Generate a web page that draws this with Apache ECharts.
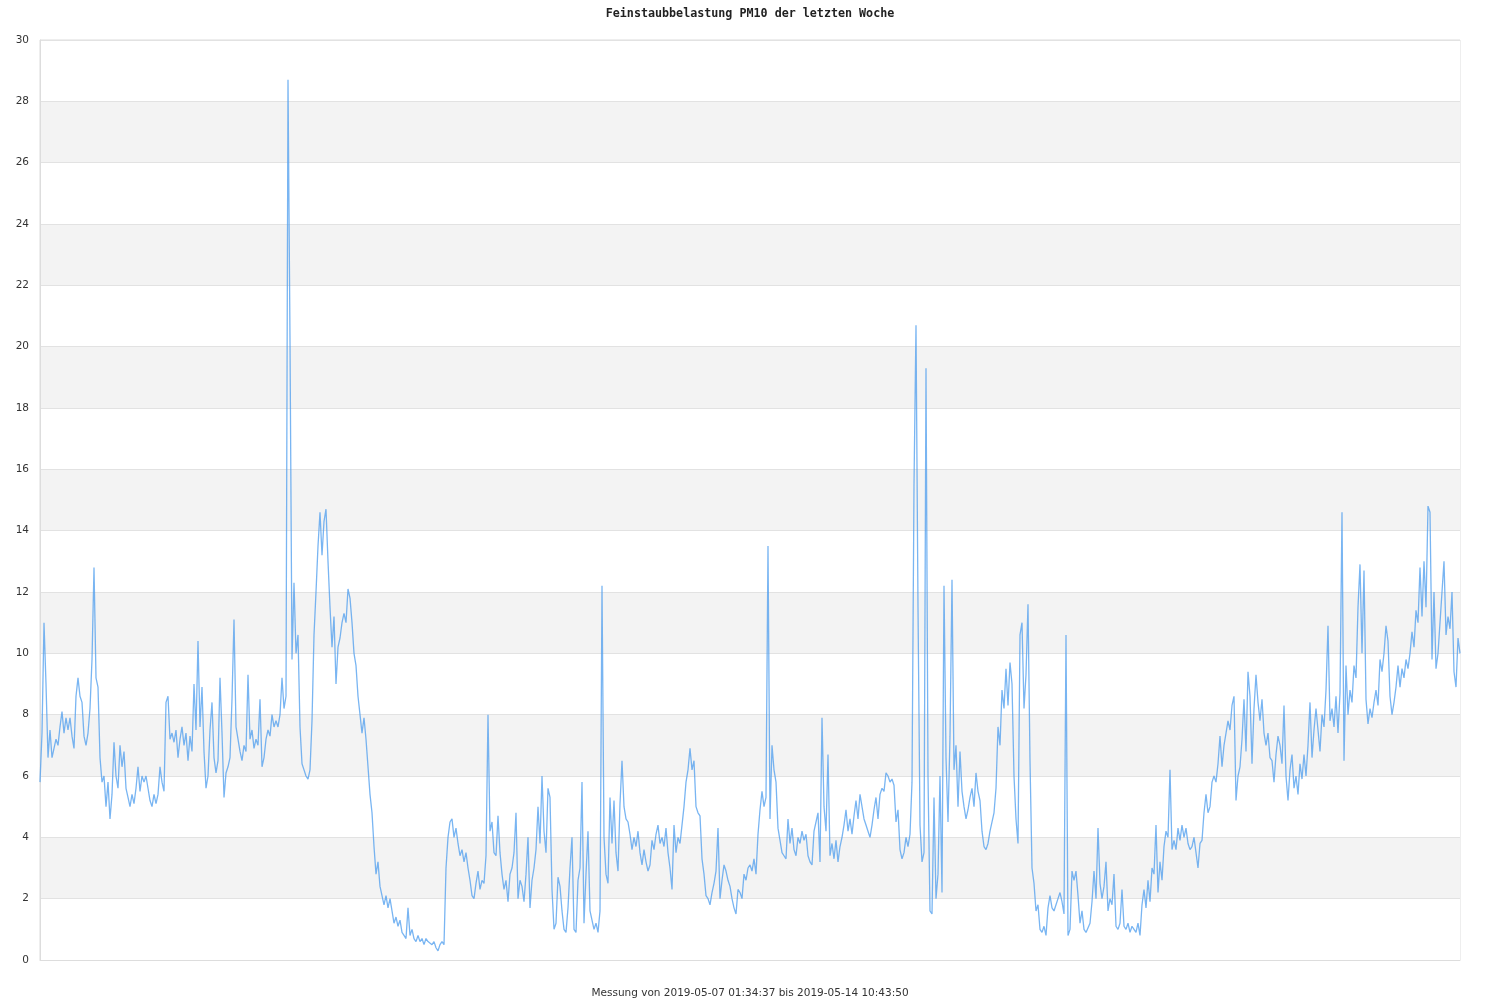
<!DOCTYPE html>
<html><head><meta charset="utf-8">
<script src="https://cdn.jsdelivr.net/npm/echarts@6/dist/echarts.min.js"></script>
<style>html,body{margin:0;padding:0;background:#fff}#c{width:1500px;height:1000px}</style>
</head><body><div id="c"></div>
<script>
const pm10Part1 = [5.8,7.4,11.0,9.0,6.6,7.5,6.6,6.9,7.2,7.0,7.6,8.1,7.4,7.9,7.5,7.9,7.3,6.9,8.6,9.2,8.6,8.4,7.3,7.0,7.4,8.2,9.8,12.8,9.2,8.9,6.6,5.8,6.0,5.0,5.8,4.6,5.4,7.1,6.0,5.6,7.0,6.3,6.8,5.6,5.3,5.0,5.4,5.1,5.6,6.3,5.5,6.0,5.8,6.0,5.6,5.2,5.0,5.4,5.1,5.4,6.3,5.8,5.5,8.4,8.6,7.2,7.4,7.1,7.5,6.6,7.2];
const pm10Part2 = [7.6,7.0,7.4,6.5,7.3,6.8,9.0,7.5,10.4,7.6,8.9,6.8,5.6,6.0,7.5,8.4,6.6,6.1,6.5,9.2,7.4,5.3,6.1,6.3,6.6,8.5,11.1,7.6,7.2,6.8,6.5,7.0,6.8,9.3,7.2,7.5,6.9,7.2,7.0,8.5,6.3,6.6,7.2,7.5,7.3,8.0,7.6,7.8,7.6,8.0,9.2,8.2,8.6,28.7,20.2,9.8,12.3,10.0,10.6,7.6,6.4,6.2,6.0,5.9,6.2,7.8,10.6,12.0,13.5,14.6,13.2];
const pm10Part3 = [14.3,14.7,13.0,11.5,10.2,11.2,9.0,10.2,10.5,11.0,11.3,11.0,12.1,11.8,11.0,10.0,9.6,8.6,8.0,7.4,7.9,7.2,6.3,5.4,4.8,3.7,2.8,3.2,2.4,2.1,1.8,2.1,1.7,2.0,1.6,1.2,1.4,1.1,1.3,0.9,0.8,0.7,1.7,0.8,1.0,0.7,0.6,0.8,0.6,0.7,0.5,0.7,0.6,0.6,0.5,0.6,0.4,0.3,0.5,0.6,0.5,3.0,4.0,4.5,4.6,4.0,4.3,3.8,3.4,3.6,3.2];
const pm10Part4 = [3.5,3.0,2.6,2.1,2.0,2.5,2.9,2.3,2.6,2.5,3.4,8.0,4.2,4.5,3.5,3.4,4.7,3.5,2.8,2.3,2.6,1.9,2.8,3.0,3.5,4.8,2.0,2.6,2.4,1.9,2.8,4.0,1.7,2.6,3.0,3.6,5.0,3.8,6.0,4.2,3.5,5.6,5.3,2.3,1.0,1.2,2.7,2.4,1.6,1.0,0.9,1.7,3.0,4.0,1.0,0.9,2.6,3.0,5.8,1.2,2.8,4.2,1.6,1.3,1.0,1.2,0.9,1.6,12.2,4.0,2.8];
const pm10Part5 = [2.5,5.3,3.8,5.2,3.5,2.9,5.1,6.5,5.0,4.6,4.5,4.1,3.6,4.0,3.7,4.2,3.5,3.1,3.6,3.2,2.9,3.1,3.9,3.6,4.1,4.4,3.8,4.0,3.7,4.3,3.5,3.0,2.3,4.4,3.5,4.0,3.8,4.4,5.0,5.8,6.2,6.9,6.2,6.5,5.0,4.8,4.7,3.3,2.8,2.1,2.0,1.8,2.2,2.5,2.9,4.3,2.0,2.6,3.1,2.9,2.6,2.4,2.0,1.7,1.5,2.3,2.2,2.0,2.8,2.6,3.0];
const pm10Part6 = [3.1,2.9,3.3,2.8,4.1,4.9,5.5,5.0,5.3,13.5,4.6,7.0,6.2,5.8,4.3,3.9,3.5,3.4,3.3,4.6,3.8,4.3,3.6,3.4,4.0,3.8,4.2,3.9,4.1,3.4,3.2,3.1,4.2,4.5,4.8,3.2,7.9,5.0,4.2,6.7,3.4,3.8,3.3,3.9,3.2,3.7,4.0,4.4,4.9,4.2,4.6,4.1,4.7,5.2,4.6,5.4,5.0,4.6,4.4,4.2,4.0,4.4,4.9,5.3,4.6,5.4,5.6,5.5,6.1,6.0,5.8];
const pm10Part7 = [5.9,5.7,4.5,4.9,3.6,3.3,3.5,4.0,3.7,4.1,5.8,15.5,20.7,11.5,4.4,3.2,3.5,19.3,6.0,1.6,1.5,5.3,2.0,2.8,6.0,2.2,12.2,6.6,4.5,7.3,12.4,6.2,7.0,5.0,6.8,5.5,5.0,4.6,4.9,5.3,5.6,5.0,6.1,5.5,5.2,4.2,3.7,3.6,3.8,4.2,4.2,4.8,5.6,7.6,7.0,8.8,8.2,9.5,8.3,9.7,9.0,6.0,4.6,3.8,10.6,11.0,8.2,9.3,11.6,6.5,3.0];
const pm10Part8 = [2.5,1.6,1.8,1.0,0.9,1.1,0.8,1.7,2.1,1.7,1.6,1.8,2.0,2.2,1.9,1.5,10.6,0.8,1.0,2.9,2.6,2.9,2.1,1.2,1.6,1.0,0.9,0.9,1.2,1.9,2.9,2.0,4.3,2.5,2.0,2.4,3.2,1.6,2.0,1.8,2.8,1.1,1.0,1.2,2.3,1.1,1.0,1.2,0.9,1.1,1.0,0.9,1.2,0.8,1.8,2.3,1.7,2.6,1.9,3.0,2.8,4.4,2.2,3.2,2.6,3.7,4.2,4.0,6.2,3.6,3.9];
const pm10Part9 = [3.6,4.3,3.9,4.4,4.0,4.3,3.8,3.6,3.7,4.0,3.5,3.0,3.8,3.9,4.8,5.4,4.8,5.0,5.8,6.0,5.8,6.4,7.3,6.3,7.0,7.4,7.8,7.5,8.3,8.6,5.2,6.0,6.3,7.2,8.5,6.8,9.4,8.6,6.4,8.2,9.3,8.4,7.8,8.5,7.4,7.0,7.4,6.6,6.5,5.8,6.7,7.3,7.0,6.4,8.3,6.0,5.2,6.2,6.7,5.6,6.0,5.4,6.4,5.9,6.7,6.0,7.0,8.4,6.6,7.5,8.2];
const pm10Part10 = [7.5,6.8,8.0,7.6,8.8,10.9,7.8,8.2,7.6,8.6,7.4,8.7,14.6,6.5,9.6,8.0,8.8,8.4,9.6,9.2,11.5,12.9,10.0,12.7,8.5,7.7,8.2,7.9,8.4,8.8,8.3,9.8,9.4,10.0,10.9,10.4,8.6,8.0,8.4,8.9,9.6,8.9,9.5,9.2,9.8,9.5,10.0,10.7,10.2,11.4,11.0,12.8,11.2,13.0,11.5,14.8,14.6,9.8,12.0,9.5,10.0,11.0,12.0,13.0,10.6,11.2,10.8,12.0,9.4,8.9,10.5,10.0];

const chartTitle = 'Feinstaubbelastung PM10 der letzten Woche';
const xAxisTitle = 'Messung von 2019-05-07 01:34:37 bis 2019-05-14 10:43:50';
const yMin = 0, yMax = 30, yStep = 2;

const pm10 = [].concat(pm10Part1, pm10Part2, pm10Part3, pm10Part4, pm10Part5,
  pm10Part6, pm10Part7, pm10Part8, pm10Part9, pm10Part10);
const categories = pm10.map((_, i) => String(i));

const chart = echarts.init(document.getElementById('c'), null, {renderer: 'canvas'});
chart.setOption({
  animation: false,
  backgroundColor: '#ffffff',
  title: {
    text: chartTitle, left: 'center', top: 3,
    textStyle: {fontFamily: 'DejaVu Sans Mono', fontWeight: 'bold', fontSize: 11.7, color: '#222'}
  },
  grid: {left: 40, right: 40, top: 40, bottom: 40, show: true, borderColor: '#dddddd', borderWidth: 1,
         containLabel: false, outerBoundsMode: 'none'},
  xAxis: {
    type: 'category', data: categories, boundaryGap: false,
    axisLine: {lineStyle: {color: '#dddddd'}}, axisTick: {show: false},
    axisLabel: {show: false}, splitLine: {show: false},
    name: xAxisTitle, nameLocation: 'middle', nameGap: 28,
    nameTextStyle: {fontFamily: 'DejaVu Sans', fontSize: 10.5, color: '#333'}
  },
  yAxis: {
    type: 'value', min: yMin, max: yMax, interval: yStep,
    axisLine: {show: true, lineStyle: {color: '#dddddd'}}, axisTick: {show: false},
    axisLabel: {margin: 11, fontFamily: 'DejaVu Sans', fontSize: 10.5, color: '#333'},
    splitLine: {lineStyle: {color: '#e2e2e2'}},
    splitArea: {show: true, areaStyle: {color: ['#ffffff', '#f3f3f3']}}
  },
  series: [{
    type: 'line', data: pm10, showSymbol: false, symbol: 'none',
    lineStyle: {width: 1.3, color: 'rgba(76,156,237,0.75)'}
  }]
});
</script></body></html>
